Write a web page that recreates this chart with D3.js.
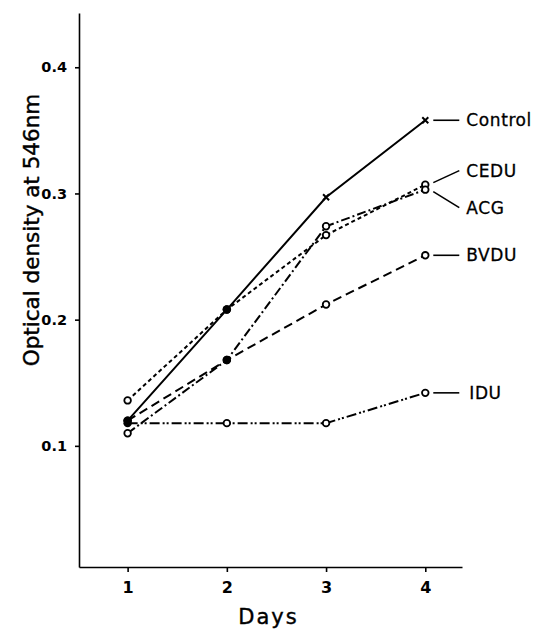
<!DOCTYPE html>
<html>
<head>
<meta charset="utf-8">
<script src="https://cdn.jsdelivr.net/npm/d3@7"></script>
<style>
  html, body { margin: 0; padding: 0; background: #fff; }
  svg { display: block; font-family: "DejaVu Sans", sans-serif; }
</style>
</head>
<body>
<svg id="chart" width="535" height="630"></svg>
<script>
// ---- data ----
const days = [1, 2, 3, 4];
const xTickLabels = ["1", "2", "3", "4"];
const yTickValues = [0.1, 0.2, 0.3, 0.4];
const seriesNames = ["Control", "CEDU", "ACG", "BVDU", "IDU"];
const control = [0.120, 0.208, 0.297, 0.358];
const cedu    = [0.136, 0.208, 0.267, 0.307];
const acg     = [0.110, 0.168, 0.274, 0.303];
const bvdu    = [0.120, 0.168, 0.212, 0.251];
const idu     = [0.118, 0.118, 0.118, 0.142];
const values = [control, cedu, acg, bvdu, idu];

// ---- styles ----
const styles = {
  Control: { dash: null,                markers: ["filled", "filled", "x", "x"],       labelDy: 0 },
  CEDU:    { dash: "4,3",               markers: ["open", "filled", "open", "open"],   labelDy: -14 },
  ACG:     { dash: "9,3,2,3",           markers: ["open", "filled", "open", "open"],   labelDy: 18 },
  BVDU:    { dash: "9,5",               markers: ["filled", "filled", "open", "open"], labelDy: 0 },
  IDU:     { dash: "10,3,2,2,2,3",      markers: ["filled", "open", "open", "open"],   labelDy: 0 }
};

const svg = d3.select("#chart");
const x = d3.scaleLinear().domain([0.51, 4.37]).range([79, 462]);
const y = d3.scaleLinear().domain([0.004, 0.443]).range([567, 13]);

// axes
const xAxis = svg.append("g")
  .attr("transform", `translate(0,${y(0.004)})`)
  .call(d3.axisBottom(x).tickValues(days).tickFormat((d, i) => xTickLabels[i])
        .tickSizeInner(5).tickSizeOuter(0).tickPadding(10));
xAxis.select(".domain").attr("stroke-width", 1.6);
xAxis.selectAll(".tick line").attr("stroke-width", 1.6);
xAxis.selectAll("text").attr("font-size", 16).attr("font-weight", "bold")
  .attr("font-family", "DejaVu Sans, sans-serif");

const yAxis = svg.append("g")
  .attr("transform", `translate(${x(0.51)},0)`)
  .call(d3.axisLeft(y).tickValues(yTickValues).tickFormat(d3.format(".1f"))
        .tickSizeInner(4).tickSizeOuter(0).tickPadding(8));
yAxis.select(".domain").attr("stroke-width", 1.6);
yAxis.selectAll(".tick line").attr("stroke-width", 1.6);
yAxis.selectAll("text").attr("font-size", 14.5).attr("font-weight", "bold")
  .attr("font-family", "DejaVu Sans, sans-serif");

// axis titles
svg.append("text")
  .attr("transform", `translate(39,${(y(0.004) + y(0.443)) / 2 - 60}) rotate(-90)`)
  .attr("text-anchor", "middle")
  .attr("font-size", 21.5)
  .attr("stroke", "#000").attr("stroke-width", 0.4)
  .text("Optical density at 546nm");

svg.append("text")
  .attr("x", (x(1) + x(4)) / 2 - 8)
  .attr("y", 624)
  .attr("text-anchor", "middle")
  .attr("font-size", 21)
  .attr("letter-spacing", 2)
  .attr("stroke", "#000").attr("stroke-width", 0.4)
  .text("Days");

// lines
const line = d3.line().x((d, i) => x(days[i])).y(d => y(d));
seriesNames.forEach((name, si) => {
  const st = styles[name];
  svg.append("path")
    .datum(values[si])
    .attr("d", line)
    .attr("fill", "none")
    .attr("stroke", "#000")
    .attr("stroke-width", 2)
    .attr("stroke-dasharray", st.dash);
});

// markers
seriesNames.forEach((name, si) => {
  const st = styles[name];
  values[si].forEach((v, i) => {
    const cx = x(days[i]), cy = y(v), m = st.markers[i];
    if (m === "x") {
      svg.append("path")
        .attr("d", `M${cx - 3},${cy - 3}L${cx + 3},${cy + 3}M${cx - 3},${cy + 3}L${cx + 3},${cy - 3}`)
        .attr("stroke", "#000").attr("stroke-width", 2);
    } else if (m === "filled") {
      svg.append("circle").attr("cx", cx).attr("cy", cy).attr("r", 4.2).attr("fill", "#000");
    } else {
      svg.append("circle").attr("cx", cx).attr("cy", cy).attr("r", 3.3)
        .attr("fill", "#fff").attr("stroke", "#000").attr("stroke-width", 1.8);
    }
  });
});

// end labels with leader lines
seriesNames.forEach((name, si) => {
  const st = styles[name];
  const last = values[si][values[si].length - 1];
  const px = x(days[days.length - 1]), py = y(last);
  const ly = py + st.labelDy;
  svg.append("line")
    .attr("x1", px + 8).attr("y1", py + (st.labelDy === 0 ? 0 : Math.sign(st.labelDy) * 2))
    .attr("x2", px + 34).attr("y2", ly)
    .attr("stroke", "#000").attr("stroke-width", 1.6);
  svg.append("text")
    .attr("x", px + 41 + (name === "IDU" ? 3 : 0))
    .attr("y", ly)
    .attr("dy", "0.36em")
    .attr("font-size", 17)
    .attr("letter-spacing", 0.6)
    .attr("stroke", "#000").attr("stroke-width", 0.3)
    .text(name);
});
</script>
</body>
</html>
